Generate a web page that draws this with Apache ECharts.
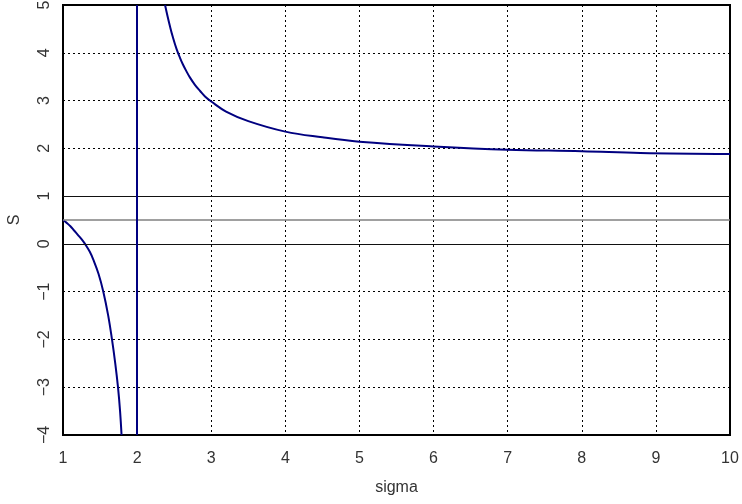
<!DOCTYPE html>
<html>
<head>
<meta charset="utf-8">
<script src="https://cdn.jsdelivr.net/npm/echarts@6/dist/echarts.min.js"></script>
<style>html,body{margin:0;padding:0;background:#fff}#c{width:742px;height:504px}</style>
</head>
<body>
<div id="c"></div>
<script>
// Left branch (sigma < 2)
const leftSigma = [1.0, 1.05, 1.1, 1.15, 1.2, 1.25, 1.297, 1.36, 1.409, 1.48, 1.544, 1.61, 1.661, 1.705, 1.742, 1.77, 1.79];
const leftS     = [0.5, 0.44, 0.37, 0.28, 0.19, 0.1, 0.0, -0.16, -0.33, -0.63, -1.0, -1.5, -2.0, -2.5, -3.0, -3.5, -4.0];
// Right branch (sigma > 2)
const rightSigma = [2.377, 2.41, 2.444, 2.48, 2.534, 2.58, 2.62, 2.67, 2.714, 2.78, 2.85, 2.92, 3.0, 3.2, 3.5, 4.0, 4.5, 5.0, 6.0, 7.0, 8.0, 8.79, 10.0];
const rightS     = [5.0, 4.77, 4.55, 4.34, 4.07, 3.89, 3.75, 3.6, 3.48, 3.33, 3.2, 3.08, 2.98, 2.77, 2.57, 2.35, 2.23, 2.14, 2.04, 1.97, 1.94, 1.90, 1.88];
// Reference lines
const asymptoteX = 2;
const refLevels = [0, 0.5, 1];

const zip = (a, b) => a.map((v, i) => [v, b[i]]);
const font = 'Liberation Sans';
const chart = echarts.init(document.getElementById('c'));
chart.setOption({
  animation: false,
  grid: { left: 63, right: 12, top: 5, bottom: 69, show: true, borderColor: '#000', borderWidth: 2,
          backgroundColor: 'transparent', outerBoundsMode: 'none', containLabel: false },
  xAxis: {
    type: 'value', min: 1, max: 10, interval: 1,
    name: 'sigma', nameLocation: 'middle', nameGap: 45,
    nameTextStyle: { fontFamily: font, fontSize: 16, color: '#333' },
    axisLine: { show: false }, axisTick: { show: false },
    axisLabel: { fontFamily: font, fontSize: 16, color: '#333', margin: 16 },
    splitLine: { show: true, lineStyle: { color: '#000', type: [2, 3], width: 1 } }
  },
  yAxis: {
    type: 'value', min: -4, max: 5, interval: 1,
    name: 'S', nameLocation: 'middle', nameGap: 40, nameRotate: 90,
    nameTextStyle: { fontFamily: font, fontSize: 16, color: '#333' },
    axisLine: { show: false }, axisTick: { show: false },
    axisLabel: { fontFamily: font, fontSize: 16, color: '#333', rotate: 90, margin: 10,
      formatter: v => (v < 0 ? '\u2212' + Math.abs(v) : String(v)) },
    splitLine: { show: true, lineStyle: { color: '#000', type: [2, 3], width: 1 } }
  },
  series: [
    {
      type: 'line', data: zip(leftSigma, leftS), smooth: 0.4, symbol: 'none',
      lineStyle: { color: '#000080', width: 2 },
      markLine: {
        silent: true, symbol: 'none', label: { show: false },
        data: [
          { yAxis: refLevels[0], lineStyle: { color: '#111', width: 1.2, type: 'solid' } },
          { yAxis: refLevels[1], lineStyle: { color: '#808080', width: 1.5, type: 'solid' } },
          { yAxis: refLevels[2], lineStyle: { color: '#111', width: 1.2, type: 'solid' } },
          { xAxis: asymptoteX, lineStyle: { color: '#000080', width: 2, type: 'solid' } }
        ]
      }
    },
    {
      type: 'line', data: zip(rightSigma, rightS), smooth: 0.4, symbol: 'none',
      lineStyle: { color: '#000080', width: 2 }
    }
  ]
});
</script>
</body>
</html>
